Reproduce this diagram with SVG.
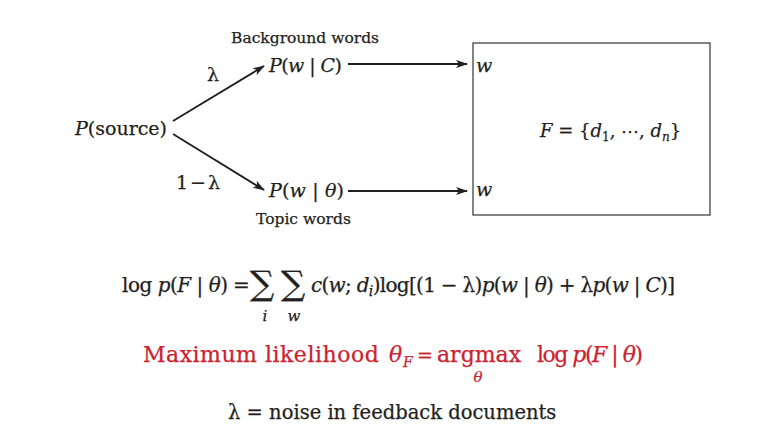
<svg xmlns="http://www.w3.org/2000/svg" width="769" height="441" viewBox="0 0 769 441">
<style>
text{font-family:"DejaVu Serif","Liberation Serif",serif;fill:#231f20;stroke:#231f20;stroke-width:0.25}
.m{font-size:19px}
.f{font-size:20px}
.s{font-size:15.5px}
.i{font-style:italic}
.red{fill:#cc2230;stroke:#cc2230}
.sig{font-size:34px}
.ln{stroke:#231f20;stroke-width:1.8;fill:none}
</style>
<defs>
<marker id="ah" viewBox="0 0 12 8" refX="11" refY="4" markerWidth="12" markerHeight="8" markerUnits="userSpaceOnUse" orient="auto">
<path d="M0,0 L12,4 L0,8 L3,4 z" fill="#231f20"/>
</marker>
</defs>
<rect width="769" height="441" fill="#fff"/>
<g id="connectors">
<line class="ln" x1="173" y1="121" x2="264" y2="66" marker-end="url(#ah)"/>
<line class="ln" x1="173" y1="134" x2="264" y2="190" marker-end="url(#ah)"/>
<line class="ln" x1="348" y1="64" x2="467" y2="64" marker-end="url(#ah)"/>
<line class="ln" x1="348" y1="191" x2="467" y2="191" marker-end="url(#ah)"/>
<text class="m" x="207" y="81">λ</text>
<text class="m" x="176" y="189" textLength="44" lengthAdjust="spacing">1 − λ</text>
</g>
<g id="source"><text class="m" x="75" y="135"><tspan class="i">P</tspan>(source)</text></g>
<g id="background">
<text class="s" x="231" y="43">Background words</text>
<text class="m" x="269" y="72" textLength="73" lengthAdjust="spacing"><tspan class="i">P</tspan>(<tspan class="i">w</tspan> | <tspan class="i">C</tspan>)</text>
</g>
<g id="topic">
<text class="m" x="269" y="197" textLength="75" lengthAdjust="spacing"><tspan class="i">P</tspan>(<tspan class="i">w</tspan> | <tspan class="i">θ</tspan>)</text>
<text class="s" x="256" y="224">Topic words</text>
</g>
<g id="feedback">
<rect x="473" y="43" width="237" height="172" fill="none" stroke="#333" stroke-width="1.2"/>
<text class="m i" x="476" y="72">w</text>
<text class="m i" x="476" y="196">w</text>
<text font-size="18" x="540" y="137"><tspan class="i">F</tspan> = {<tspan class="i">d</tspan><tspan font-size="12" dy="4">1</tspan><tspan dy="-4">, ⋯, </tspan><tspan class="i">d</tspan><tspan class="i" font-size="12" dy="4">n</tspan><tspan dy="-4">}</tspan></text>
</g>
<g id="formula">
<text class="f" x="122" y="292" textLength="106" lengthAdjust="spacing">log <tspan class="i">p</tspan>(<tspan class="i">F</tspan> | <tspan class="i">θ</tspan>)</text>
<text class="f" x="233" y="292">=</text>
<text class="sig" x="250" y="295">∑</text>
<text class="sig" x="281" y="295">∑</text>
<text class="f" x="311" y="292" textLength="364" lengthAdjust="spacing"><tspan class="i">c</tspan>(<tspan class="i">w</tspan>; <tspan class="i">d</tspan><tspan class="i" font-size="14" dy="4">i</tspan><tspan dy="-4">)log[(1 − λ)</tspan><tspan class="i">p</tspan>(<tspan class="i">w</tspan> | <tspan class="i">θ</tspan>) + λ<tspan class="i">p</tspan>(<tspan class="i">w</tspan> | <tspan class="i">C</tspan>)]</text>
<text class="i" font-size="15" x="265" y="321" text-anchor="middle">i</text>
<text class="i" font-size="15" x="294" y="321" text-anchor="middle">w</text>
</g>
<g id="ml">
<text class="red" font-size="22" letter-spacing="0.5" x="143" y="362">Maximum likelihood</text>
<text class="red i" font-size="22" x="389" y="362">θ</text>
<text class="red i" font-size="14" x="403" y="367">F</text>
<text class="red" font-size="19" x="417" y="362">=</text>
<text class="red" font-size="22" x="437" y="362">argmax</text>
<text class="red" font-size="22" x="537" y="362" textLength="106" lengthAdjust="spacing">log <tspan class="i">p</tspan>(<tspan class="i">F</tspan> | <tspan class="i">θ</tspan>)</text>
<text class="red i" font-size="15" x="478" y="382" text-anchor="middle">θ</text>
</g>
<g id="note"><text font-size="19.5" x="228" y="419">λ = noise in feedback documents</text></g>
</svg>
